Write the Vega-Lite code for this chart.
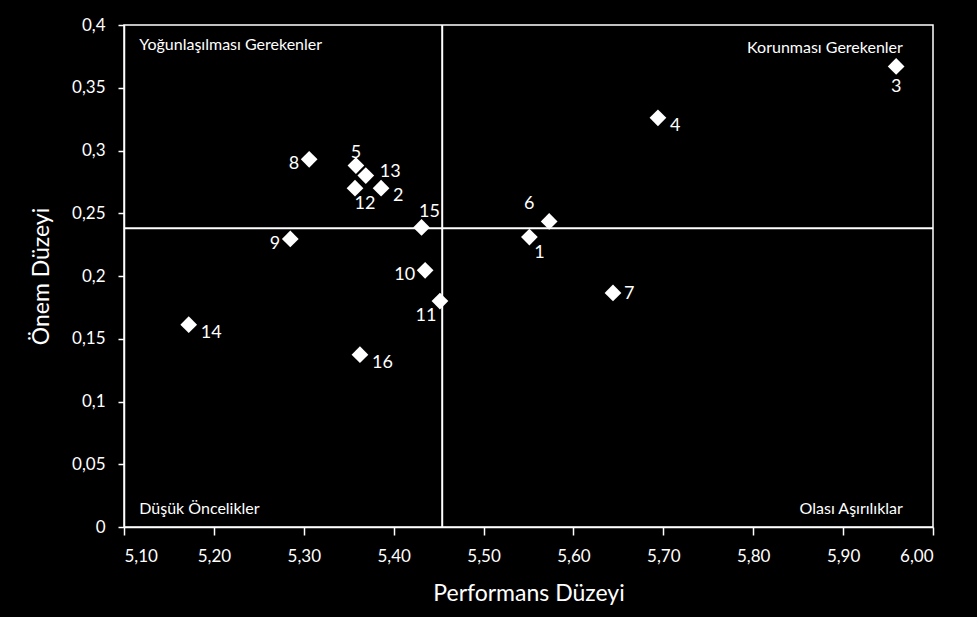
{
  "$schema": "https://vega.github.io/schema/vega-lite/v6.json",
  "width": 809,
  "height": 502,
  "autosize": {"type": "none"},
  "padding": {"left": 124, "top": 25, "right": 44, "bottom": 90},
  "background": "black",
  "config": {
    "view": {"stroke": "white", "strokeWidth": 1.5},
    "font": "Lato",
    "axis": {
      "domainColor": "white", "tickColor": "white", "labelColor": "white", "titleColor": "white",
      "labelFont": "Lato", "titleFont": "Lato", "labelFontSize": 17, "titleFontSize": 23,
      "titleFontWeight": "normal", "grid": false, "domainWidth": 1.5, "tickWidth": 1.5
    }
  },
  "datasets": {
    "points": [
      {"id": "1", "perf": 5.551, "imp": 0.231},
      {"id": "2", "perf": 5.386, "imp": 0.270},
      {"id": "3", "perf": 5.959, "imp": 0.367},
      {"id": "4", "perf": 5.694, "imp": 0.326},
      {"id": "5", "perf": 5.358, "imp": 0.288},
      {"id": "6", "perf": 5.573, "imp": 0.2435},
      {"id": "7", "perf": 5.644, "imp": 0.1865},
      {"id": "8", "perf": 5.306, "imp": 0.293},
      {"id": "9", "perf": 5.285, "imp": 0.2295},
      {"id": "10", "perf": 5.435, "imp": 0.2045},
      {"id": "11", "perf": 5.4515, "imp": 0.18},
      {"id": "12", "perf": 5.357, "imp": 0.270},
      {"id": "13", "perf": 5.369, "imp": 0.280},
      {"id": "14", "perf": 5.172, "imp": 0.1612},
      {"id": "15", "perf": 5.431, "imp": 0.2387},
      {"id": "16", "perf": 5.3625, "imp": 0.1373}
    ],
    "means": [{"perf": 5.454, "imp": 0.238}],
    "quadrants": [
      {"label": "Yoğunlaşılması  Gerekenler", "perf": 5.117, "imp": 0.384, "side": "left"},
      {"label": "Korunması Gerekenler", "perf": 5.9665, "imp": 0.382, "side": "right"},
      {"label": "Düşük Öncelikler", "perf": 5.117, "imp": 0.014, "side": "left"},
      {"label": "Olası Aşırılıklar", "perf": 5.9665, "imp": 0.014, "side": "right"}
    ]
  },
  "layer": [
    {
      "data": {"name": "means"},
      "mark": {"type": "rule", "color": "white", "strokeWidth": 2},
      "encoding": {"y": {"field": "imp", "type": "quantitative", "scale": {"domain": [0, 0.4]}}}
    },
    {
      "data": {"name": "means"},
      "mark": {"type": "rule", "color": "white", "strokeWidth": 2},
      "encoding": {"x": {"field": "perf", "type": "quantitative", "scale": {"domain": [5.1, 6.0]}}}
    },
    {
      "data": {"name": "points"},
      "mark": {"type": "point", "shape": "diamond", "filled": true, "color": "white", "opacity": 1, "size": 280},
      "encoding": {
        "x": {
          "field": "perf", "type": "quantitative", "title": "Performans Düzeyi",
          "scale": {"domain": [5.1, 6.0], "nice": false, "zero": false},
          "axis": {
            "values": [5.1, 5.2, 5.3, 5.4, 5.5, 5.6, 5.7, 5.8, 5.9, 6.0],
            "labelExpr": "replace(format(datum.value, '.2f'), '.', ',')",
            "tickSize": 8, "labelPadding": 13, "titlePadding": 18
          }
        },
        "y": {
          "field": "imp", "type": "quantitative", "title": "Önem  Düzeyi",
          "scale": {"domain": [0, 0.4], "nice": false},
          "axis": {
            "values": [0, 0.05, 0.1, 0.15, 0.2, 0.25, 0.3, 0.35, 0.4],
            "labelExpr": "replace(format(datum.value, '.2~f'), '.', ',')",
            "tickSize": 6, "labelPadding": 13, "titlePadding": 18
          }
        }
      }
    },
    {
      "data": {"name": "points"},
      "transform": [{"filter": "indexof(['4','14','2','16'], datum.id) >= 0"}],
      "mark": {"type": "text", "color": "white", "fontSize": 18, "align": "left", "baseline": "middle", "dx": 12, "dy": 8},
      "encoding": {"x": {"field": "perf", "type": "quantitative"}, "y": {"field": "imp", "type": "quantitative"}, "text": {"field": "id"}}
    },
    {
      "data": {"name": "points"},
      "transform": [{"filter": "datum.id == '7'"}],
      "mark": {"type": "text", "color": "white", "fontSize": 18, "align": "left", "baseline": "middle", "dx": 11, "dy": 1},
      "encoding": {"x": {"field": "perf", "type": "quantitative"}, "y": {"field": "imp", "type": "quantitative"}, "text": {"field": "id"}}
    },
    {
      "data": {"name": "points"},
      "transform": [{"filter": "datum.id == '13'"}],
      "mark": {"type": "text", "color": "white", "fontSize": 18, "align": "left", "baseline": "middle", "dx": 14, "dy": -4},
      "encoding": {"x": {"field": "perf", "type": "quantitative"}, "y": {"field": "imp", "type": "quantitative"}, "text": {"field": "id"}}
    },
    {
      "data": {"name": "points"},
      "transform": [{"filter": "indexof(['8','9','10'], datum.id) >= 0"}],
      "mark": {"type": "text", "color": "white", "fontSize": 18, "align": "right", "baseline": "middle", "dx": -10, "dy": 5},
      "encoding": {"x": {"field": "perf", "type": "quantitative"}, "y": {"field": "imp", "type": "quantitative"}, "text": {"field": "id"}}
    },
    {
      "data": {"name": "points"},
      "transform": [{"filter": "datum.id == '3'"}],
      "mark": {"type": "text", "color": "white", "fontSize": 18, "align": "center", "baseline": "middle", "dx": 0, "dy": 21},
      "encoding": {"x": {"field": "perf", "type": "quantitative"}, "y": {"field": "imp", "type": "quantitative"}, "text": {"field": "id"}}
    },
    {
      "data": {"name": "points"},
      "transform": [{"filter": "indexof(['12','1'], datum.id) >= 0"}],
      "mark": {"type": "text", "color": "white", "fontSize": 18, "align": "center", "baseline": "middle", "dx": 10, "dy": 16},
      "encoding": {"x": {"field": "perf", "type": "quantitative"}, "y": {"field": "imp", "type": "quantitative"}, "text": {"field": "id"}}
    },
    {
      "data": {"name": "points"},
      "transform": [{"filter": "datum.id == '11'"}],
      "mark": {"type": "text", "color": "white", "fontSize": 18, "align": "center", "baseline": "middle", "dx": -14, "dy": 15},
      "encoding": {"x": {"field": "perf", "type": "quantitative"}, "y": {"field": "imp", "type": "quantitative"}, "text": {"field": "id"}}
    },
    {
      "data": {"name": "points"},
      "transform": [{"filter": "datum.id == '5'"}],
      "mark": {"type": "text", "color": "white", "fontSize": 18, "align": "center", "baseline": "middle", "dx": 0, "dy": -13},
      "encoding": {"x": {"field": "perf", "type": "quantitative"}, "y": {"field": "imp", "type": "quantitative"}, "text": {"field": "id"}}
    },
    {
      "data": {"name": "points"},
      "transform": [{"filter": "datum.id == '15'"}],
      "mark": {"type": "text", "color": "white", "fontSize": 18, "align": "center", "baseline": "middle", "dx": 8, "dy": -15},
      "encoding": {"x": {"field": "perf", "type": "quantitative"}, "y": {"field": "imp", "type": "quantitative"}, "text": {"field": "id"}}
    },
    {
      "data": {"name": "points"},
      "transform": [{"filter": "datum.id == '6'"}],
      "mark": {"type": "text", "color": "white", "fontSize": 18, "align": "center", "baseline": "middle", "dx": -20, "dy": -17},
      "encoding": {"x": {"field": "perf", "type": "quantitative"}, "y": {"field": "imp", "type": "quantitative"}, "text": {"field": "id"}}
    },
    {
      "data": {"name": "quadrants"},
      "transform": [{"filter": "datum.side == 'left'"}],
      "mark": {"type": "text", "color": "white", "fontSize": 16, "align": "left", "baseline": "middle"},
      "encoding": {"x": {"field": "perf", "type": "quantitative"}, "y": {"field": "imp", "type": "quantitative"}, "text": {"field": "label"}}
    },
    {
      "data": {"name": "quadrants"},
      "transform": [{"filter": "datum.side == 'right'"}],
      "mark": {"type": "text", "color": "white", "fontSize": 16, "align": "right", "baseline": "middle"},
      "encoding": {"x": {"field": "perf", "type": "quantitative"}, "y": {"field": "imp", "type": "quantitative"}, "text": {"field": "label"}}
    }
  ]
}
